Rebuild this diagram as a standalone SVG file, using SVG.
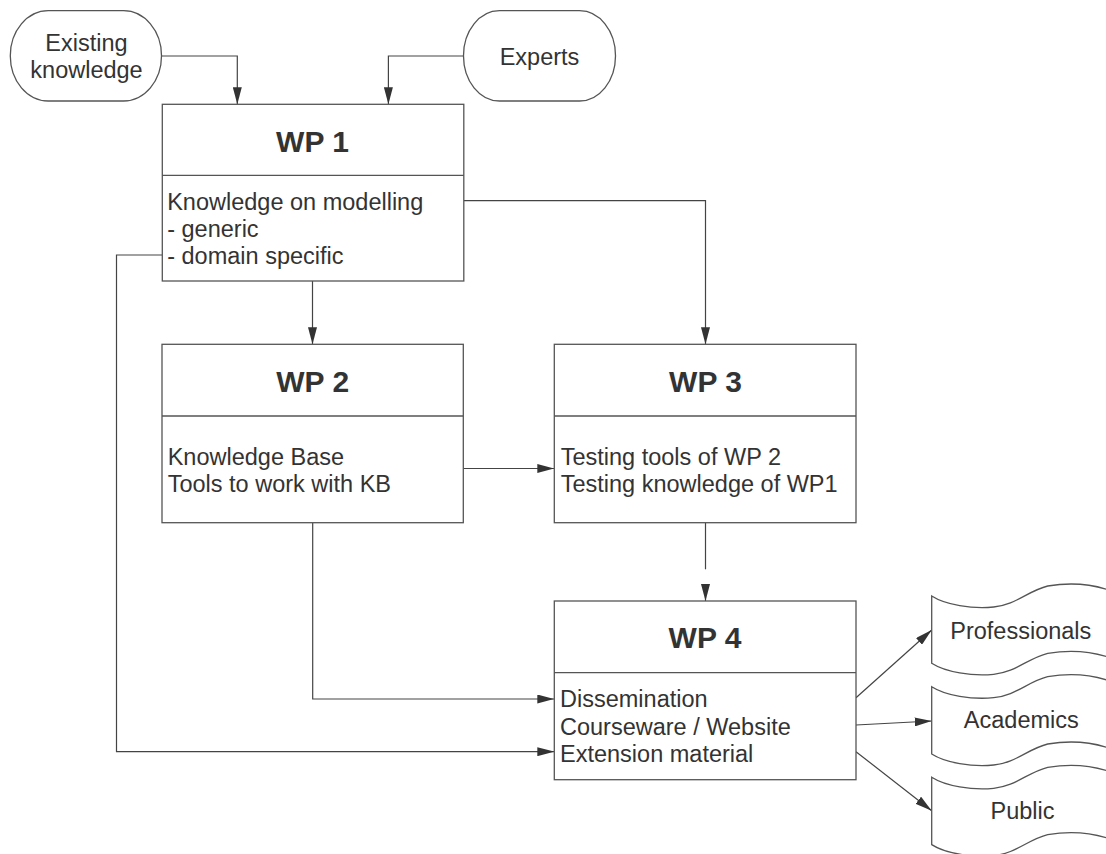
<svg xmlns="http://www.w3.org/2000/svg" width="1106" height="854" viewBox="0 0 1106 854">
<style>
  .bg { fill: #ffffff; }
  .shape { fill: #ffffff; stroke: #555555; stroke-width: 1.3; }
  .div { fill: none; stroke: #555555; stroke-width: 1.3; }
  .conn { fill: none; stroke: #444444; stroke-width: 1.2; }
  .t { font-family: "Liberation Sans", Arial, sans-serif; font-size: 23.5px; fill: #333333; }
  .c { text-anchor: middle; }
  .title { font-family: "Liberation Sans", Arial, sans-serif; font-size: 30px; font-weight: bold; fill: #333333; text-anchor: middle; }
</style>
<defs>
  <marker id="arr" markerUnits="userSpaceOnUse" viewBox="0 0 17 9" refX="17" refY="4.5" markerWidth="17" markerHeight="9" orient="auto">
    <path d="M0,0 L17,4.5 L0,9 z" fill="#333333"/>
  </marker>
  <path id="wavetop" d="M0,0 C14,9 40,13 62,11 C84,9 96,-5 116,-10 C134,-13 158,-13 180,-5"/>
</defs>
<rect class="bg" x="0" y="0" width="1106" height="854"/>

<g id="connectors">
  <path class="conn" d="M161.5,56 H237.3 V104.3" marker-end="url(#arr)"/>
  <path class="conn" d="M463.5,56 H388.4 V104.3" marker-end="url(#arr)"/>
  <path class="conn" d="M312.5,281 V344.3" marker-end="url(#arr)"/>
  <path class="conn" d="M463.8,200.7 H705.5 V344.3" marker-end="url(#arr)"/>
  <path class="conn" d="M463.3,468.5 H554.3" marker-end="url(#arr)"/>
  <path class="conn" d="M705.5,522.7 V569.3"/>
  <path class="conn" d="M705.5,588 V601" marker-end="url(#arr)"/>
  <path class="conn" d="M312.7,522.7 V699 H554.3" marker-end="url(#arr)"/>
  <path class="conn" d="M162.3,255 H116.5 V751.7 H554.3" marker-end="url(#arr)"/>
  <path class="conn" d="M856,697.7 L931.7,630" marker-end="url(#arr)"/>
  <path class="conn" d="M856,725 L931.7,721" marker-end="url(#arr)"/>
  <path class="conn" d="M856,751.7 L931.7,810.7" marker-end="url(#arr)"/>
</g>

<g id="existing-knowledge">
  <rect class="shape" x="10.3" y="10.7" width="151.2" height="90.3" rx="38" ry="45"/>
  <text class="t c" x="86.5" y="50.7">Existing</text>
  <text class="t c" x="86.5" y="78.3">knowledge</text>
</g>

<g id="experts">
  <rect class="shape" x="463.5" y="10.7" width="152" height="90.3" rx="36" ry="45"/>
  <text class="t c" x="539.5" y="65">Experts</text>
</g>

<g id="wp1">
  <rect class="shape" x="162.3" y="104.3" width="301.5" height="176.7"/>
  <line class="div" x1="162.3" y1="175.3" x2="463.8" y2="175.3"/>
  <text class="title" x="312.5" y="152.3">WP 1</text>
  <text class="t" x="167.2" y="210">Knowledge on modelling</text>
  <text class="t" x="167.2" y="237.3">- generic</text>
  <text class="t" x="167.2" y="264.3">- domain specific</text>
</g>

<g id="wp2">
  <rect class="shape" x="162" y="344.3" width="301.3" height="178.4"/>
  <line class="div" x1="162" y1="416" x2="463.3" y2="416"/>
  <text class="title" x="312.7" y="391.7">WP 2</text>
  <text class="t" x="167.7" y="465">Knowledge Base</text>
  <text class="t" x="167.7" y="492.3">Tools to work with KB</text>
</g>

<g id="wp3">
  <rect class="shape" x="554.3" y="344.3" width="301.7" height="178.4"/>
  <line class="div" x1="554.3" y1="416" x2="856" y2="416"/>
  <text class="title" x="705.5" y="391.7">WP 3</text>
  <text class="t" x="560.7" y="465">Testing tools of WP 2</text>
  <text class="t" x="560.7" y="492.3">Testing knowledge of WP1</text>
</g>

<g id="wp4">
  <rect class="shape" x="554.3" y="601" width="301.7" height="178.7"/>
  <line class="div" x1="554.3" y1="672.7" x2="856" y2="672.7"/>
  <text class="title" x="705" y="648.3">WP 4</text>
  <text class="t" x="560" y="707.3">Dissemination</text>
  <text class="t" x="560" y="735">Courseware / Website</text>
  <text class="t" x="560" y="762.3">Extension material</text>
</g>

<g id="professionals">
  <path class="shape" d="M931.7,596 C945.7,605 971.7,609 993.7,607 C1015.7,605 1027.7,591 1047.7,586 C1065.7,583 1089.7,583 1111.7,591 L1111.7,658.3 C1089.7,650.3 1065.7,650.3 1047.7,653.3 C1027.7,658.3 1015.7,672.3 993.7,674.3 C971.7,676.3 945.7,672.3 931.7,663.3 Z"/>
  <text class="t c" x="1020.8" y="638.5">Professionals</text>
</g>

<g id="academics">
  <path class="shape" d="M931.7,686.7 C945.7,695.7 971.7,699.7 993.7,697.7 C1015.7,695.7 1027.7,681.7 1047.7,676.7 C1065.7,673.7 1089.7,673.7 1111.7,681.7 L1111.7,749 C1089.7,741 1065.7,741 1047.7,744 C1027.7,749 1015.7,763 993.7,765 C971.7,767 945.7,763 931.7,754 Z"/>
  <text class="t c" x="1021.3" y="728.3">Academics</text>
</g>

<g id="public">
  <path class="shape" d="M931.7,777.3 C945.7,786.3 971.7,790.3 993.7,788.3 C1015.7,786.3 1027.7,772.3 1047.7,767.3 C1065.7,764.3 1089.7,764.3 1111.7,772.3 L1111.7,839.6 C1089.7,831.6 1065.7,831.6 1047.7,834.6 C1027.7,839.6 1015.7,853.6 993.7,855.6 C971.7,857.6 945.7,853.6 931.7,844.6 Z"/>
  <text class="t c" x="1022.5" y="819.3">Public</text>
</g>
</svg>
